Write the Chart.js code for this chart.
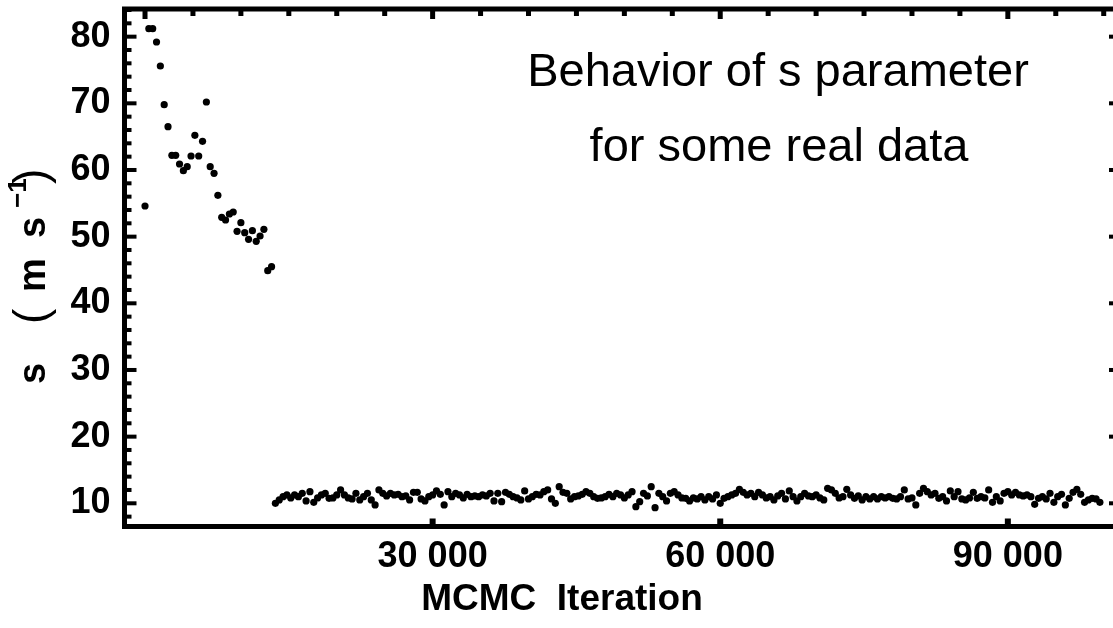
<!DOCTYPE html>
<html><head><meta charset="utf-8">
<script src="https://cdn.jsdelivr.net/npm/chart.js@4.4.1/dist/chart.umd.min.js"></script>
<style>
html,body{margin:0;padding:0;background:#fff;overflow:hidden;}
#wrap{position:absolute;left:0;top:0;width:1122px;height:628px;}
</style></head><body>
<div id="wrap"><canvas id="c"></canvas></div>
<script>
// ---- data ----
const ITER_STEP = 400; // thinning interval of the stored chain
const burnInValues = [54.6, 81.2, 81.2, 79.2, 75.6, 69.8, 66.5, 62.2, 62.2, 60.9, 59.9, 60.5, 62.1, 65.2, 62.1, 64.3, 70.2, 60.5, 59.5, 56.2, 52.9, 52.5, 53.4, 53.7, 50.8, 52.1, 50.6, 49.6, 50.9, 49.3, 50.1, 51.1, 44.9, 45.5];
const chainA = [10.0, 10.5, 11.0, 11.25, 10.8, 11.25, 11.0, 11.5, 10.35, 11.75, 10.15, 10.8, 11.25, 11.5, 10.75, 10.8, 11.25, 12.0, 11.25, 10.8, 10.65, 11.5, 10.5, 11.0, 11.5, 10.5, 9.75, 12.0, 11.5, 11.1, 11.5, 11.25, 11.35, 11.0, 11.1, 10.5, 11.65, 11.65, 10.65, 10.35, 11.0, 11.25, 11.85, 11.35, 9.75, 11.75, 11.0, 11.5, 11.25, 10.8, 11.35, 11.0];
const chainB = [11.1, 11.0, 11.25, 11.1, 11.5, 10.35, 11.5, 10.25, 11.65, 11.35, 11.0, 10.8, 10.5, 11.85, 10.65, 11.0, 11.35, 11.25, 11.75, 12.0, 10.65, 10.0, 12.5, 11.65, 11.5, 10.65, 11.0, 11.1, 11.35, 11.75, 11.5, 11.0, 10.75, 10.8, 11.0, 11.35, 11.0, 11.5, 11.25, 10.8, 11.25, 11.75, 9.5, 10.25, 11.5, 11.1, 12.5, 9.35, 11.5, 11.0, 10.35, 11.5, 11.75, 11.25, 10.8];
const chainC = [10.75, 10.35, 10.8, 10.65, 11.0, 10.5, 11.0, 10.65, 11.25, 10.0, 10.75, 11.0, 11.25, 11.5, 12.1, 11.65, 11.25, 11.5, 11.0, 11.65, 11.25, 10.8, 11.0, 10.5, 11.1, 11.5, 10.65, 11.85, 11.0, 10.35, 11.0, 11.5, 11.1, 11.0, 11.25, 10.8, 10.5, 12.25, 12.0, 11.5, 10.8, 11.0, 12.1, 11.25, 10.75, 11.1, 10.5, 11.0, 10.65, 11.0, 10.65, 11.0, 10.8, 11.0, 10.75];
const chainD = [10.65, 11.0, 12.0, 10.65, 10.8, 9.75, 11.5, 12.25, 11.75, 11.25, 11.5, 10.75, 11.0, 10.35, 11.85, 11.0, 11.75, 10.65, 10.5, 10.8, 11.65, 10.75, 11.0, 10.8, 12.0, 10.15, 11.0, 10.35, 11.5, 11.75, 11.25, 11.65, 11.25, 11.1, 11.25, 11.0, 9.85, 10.75, 11.0, 10.65, 11.5, 10.15, 11.0, 11.35, 9.75, 10.75, 11.65, 12.1, 11.35, 10.15, 10.5, 10.75, 10.65, 10.15];
const sValues = burnInValues.concat(chainA, chainB, chainC, chainD);
const iterations = sValues.map((_, i) => i * ITER_STEP);

const xTickValues = [30000, 60000, 90000];
const xTickLabels = ['30 000', '60 000', '90 000'];
const yTickValues = [10, 20, 30, 40, 50, 60, 70, 80];
const yTickLabels = ['10', '20', '30', '40', '50', '60', '70', '80'];
const yMinorStep = 2;
const xMinorStep = 5000;
const titleLines = ['Behavior of s parameter', 'for some real data'];
const xAxisTitle = 'MCMC  Iteration';
// y axis title pieces: [text, kind]
const yAxisTitleParts = [['s', 'n'], ['(', 'p'], ['m', 'n'], ['s', 'n'], ['\u22121', 'sup'], [')', 'p']];

// ---- layout constants ----
const X_MIN = -2140, X_MAX = 101490;
const Y_MIN = 6.52, Y_MAX = 84.15;
const FAMILY = '"Liberation Sans", Arial, sans-serif';

const framePlugin = {
  id: 'frame',
  afterDatasetsDraw(chart) {
    const { ctx, chartArea: a, scales: { x, y } } = chart;
    ctx.save();
    ctx.fillStyle = '#000';
    for (let v = 8; v <= 84; v += yMinorStep) {
      const py = y.getPixelForValue(v);
      const major = v % 10 === 0;
      ctx.fillRect(a.left, py - 2, major ? 12 : 7, 4);
    }
    for (const v of yTickValues) {
      const py = y.getPixelForValue(v);
      ctx.fillRect(a.right - 9, py - 2, 9, 4);
    }
    for (let v = 0; v <= 100000; v += xMinorStep) {
      const px = x.getPixelForValue(v);
      const major = v % 30000 === 0;
      ctx.fillRect(px - 2.5, a.top, 5, major ? 10 : 7);
    }
    for (const v of xTickValues) {
      const px = x.getPixelForValue(v);
      ctx.fillRect(px - 3, a.bottom - 8, 6, 8);
    }
    ctx.lineWidth = 5;
    ctx.strokeStyle = '#000';
    ctx.strokeRect(a.left, a.top, a.right - a.left, a.bottom - a.top);

    // inset title
    ctx.font = '47px ' + FAMILY;
    ctx.textAlign = 'center';
    ctx.textBaseline = 'middle';
    ctx.fillText(titleLines[0], 778, 73);
    ctx.fillText(titleLines[1], 779, 148);

    // x axis title
    ctx.font = 'bold 37px ' + FAMILY;
    ctx.fillText(xAxisTitle, 562, 600);

    // y axis title (rotated, built from pieces along the axis)
    ctx.translate(33, 0);
    ctx.rotate(-Math.PI / 2);
    ctx.textAlign = 'left';
    ctx.textBaseline = 'middle';
    const starts = [-384, -324, -292, -238, -208, -184];
    yAxisTitleParts.forEach(([t, kind], i) => {
      if (kind === 'sup') { ctx.font = 'bold 26px ' + FAMILY; ctx.fillText(t, starts[i], -14); }
      else if (kind === 'p') { ctx.font = '46px ' + FAMILY; ctx.fillText(t, starts[i], 0); }
      else { ctx.font = 'bold 38px ' + FAMILY; ctx.fillText(t, starts[i], 2); }
    });
    ctx.restore();
  }
};

new Chart(document.getElementById('c'), {
  type: 'scatter',
  data: {
    datasets: [{
      data: iterations.map((it, i) => ({ x: it, y: sValues[i] })),
      backgroundColor: '#000',
      borderWidth: 0,
      pointRadius: 3.6,
      pointHoverRadius: 3.6
    }]
  },
  options: {
    responsive: true,
    maintainAspectRatio: false,
    animation: false,
    devicePixelRatio: 1,
    layout: { padding: { top: 9, right: 4, left: 0, bottom: 0 } },
    plugins: { legend: { display: false }, tooltip: { enabled: false }, title: { display: false } },
    scales: {
      x: {
        type: 'linear', min: X_MIN, max: X_MAX,
        grid: { display: false, drawTicks: false },
        border: { display: false },
        afterBuildTicks: s => { s.ticks = xTickValues.map(v => ({ value: v })); },
        afterFit: s => { s.height = 101.5; s.paddingLeft = 0; s.paddingRight = 0; },
        ticks: {
          autoSkip: false, maxRotation: 0, padding: 9, color: '#000',
          font: { family: FAMILY, size: 36, weight: 'bold' },
          callback: (v, i) => xTickLabels[i]
        }
      },
      y: {
        type: 'linear', min: Y_MIN, max: Y_MAX,
        grid: { display: false, drawTicks: false },
        border: { display: false },
        afterBuildTicks: s => { s.ticks = yTickValues.map(v => ({ value: v })); },
        afterFit: s => { s.width = 124.5; s.paddingTop = 0; s.paddingBottom = 0; },
        ticks: {
          autoSkip: false, padding: 14, color: '#000',
          font: { family: FAMILY, size: 36, weight: 'bold' },
          callback: (v, i) => yTickLabels[i]
        }
      }
    }
  },
  plugins: [framePlugin]
});
</script>
</body></html>
